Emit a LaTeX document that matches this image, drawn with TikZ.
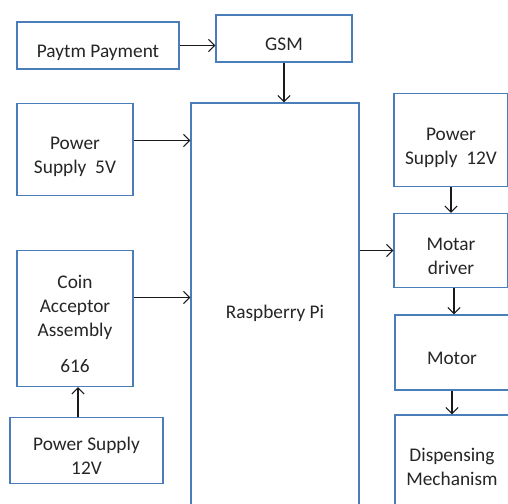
\documentclass[tikz,border=0pt]{standalone}
\usepackage{fontspec}
\setmainfont{Carlito}
\usepackage{tikz}
\usetikzlibrary{arrows.meta,positioning,calc}
\usepackage{xcolor}
\definecolor{bdBorder}{HTML}{4A7EBB}
\definecolor{bdText}{HTML}{262626}
\definecolor{bdArrow}{HTML}{1A1A1A}
\tikzset{
    every picture/.style={
        font=\fontsize{11}{13.6}\selectfont,
        line width=0.6pt
    }
}
% text sits a little below the middle of each box
\newcommand{\blocktext}[1]{\smash{\raisebox{-0.244cm}{\begin{tabular}{@{}c@{}}#1\end{tabular}}}}

\begin{document}
\begin{tikzpicture}[
    x=0.02cm, y=-0.02cm,
    block/.style={draw=bdBorder, fill=white, align=center, text=bdText, inner sep=0pt},
    arrow/.style={draw=bdArrow, -{Straight Barb[length=3.5pt,width=7pt]}}
]
    \clip (0,0) rectangle (508,504);
    \fill[white] (0,0) rectangle (508,504);

    % Payment side
    \node[block, minimum width=162*0.02cm, minimum height=47*0.02cm] (paytm) at (98,45.5) {\blocktext{Paytm Payment}};
    \node[block, minimum width=136*0.02cm, minimum height=47*0.02cm] (gsm) at (284,38.5) {\blocktext{GSM}};

    % Inputs
    \node[block, minimum width=116*0.02cm, minimum height=92*0.02cm] (ps5) at (75,149.5) {\blocktext{Power\\Supply~~5V}};
    \node[block, minimum width=116*0.02cm, minimum height=136*0.02cm] (coin) at (75,318.5) {\blocktext{Coin\\Acceptor\\Assembly\\[7pt]616}};
    \node[block, minimum width=153*0.02cm, minimum height=66*0.02cm] (pscoin) at (86.5,450.5) {\blocktext{Power Supply\\12V}};

    % Controller
    \node[block, minimum width=168*0.02cm, minimum height=407*0.02cm] (rpi) at (275,306.5) {\blocktext{Raspberry Pi}};

    % Output chain
    \node[block, minimum width=114*0.02cm, minimum height=93*0.02cm] (psmot) at (451,140) {\blocktext{Power\\Supply~~12V}};
    \node[block, minimum width=114*0.02cm, minimum height=74*0.02cm] (drv) at (451,250.5) {\blocktext{Motar\\driver}};
    \node[block, minimum width=114*0.02cm, minimum height=75*0.02cm] (motor) at (452,352.5) {\blocktext{Motor}};
    \node[block, minimum width=114*0.02cm, minimum height=93*0.02cm] (disp) at (452,461.5) {\blocktext{Dispensing\\Mechanism}};

    % Connections
    \draw[arrow] (paytm.east) -- (paytm.east -| gsm.west);
    \draw[arrow] (gsm.south) -- (gsm.south |- rpi.north);
    \draw[arrow] ($(ps5.east)+(0,-9)$) -- ($(ps5.east -| rpi.west)+(0,-9)$);
    \draw[arrow] ($(coin.east)+(0,-21)$) -- ($(coin.east -| rpi.west)+(0,-21)$);
    \draw[arrow] ($(pscoin.north -| coin.south)+(3,0)$) -- ($(coin.south)+(3,0)$);
    \draw[arrow] (rpi.east |- drv.west) -- (drv.west);
    \draw[arrow] (psmot.south) -- (drv.north);
    \draw[arrow] ($(drv.south)+(3,0)$) -- ($(motor.north)+(2,0)$);
    \draw[arrow] (motor.south) -- (disp.north);

\end{tikzpicture}
\end{document}
